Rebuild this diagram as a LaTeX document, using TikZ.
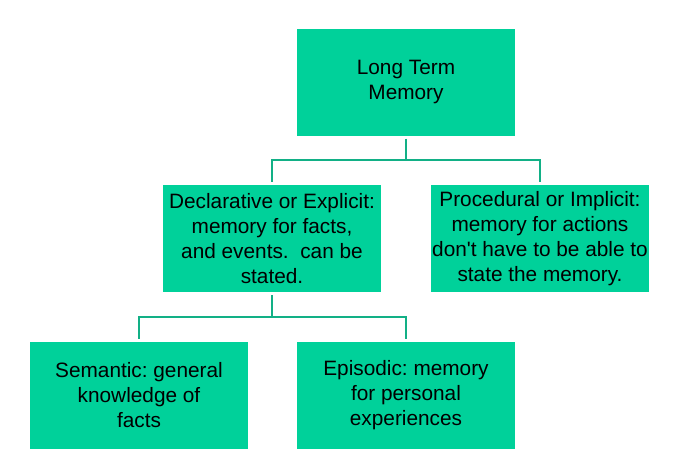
\documentclass[tikz,border=0pt]{standalone}
\usepackage{fontspec}
\setmainfont{Liberation Sans}
\frenchspacing
\definecolor{boxgreen}{RGB}{0,209,154}
\definecolor{linkgreen}{RGB}{18,176,134}

\tikzset{
  membox/.style={fill=boxgreen, minimum width=218pt, minimum height=107pt,
    inner sep=0pt, align=center, font=\fontsize{20.8}{25}\selectfont},
  link/.style={draw=linkgreen, line width=2.8pt}
}

\begin{document}
\begin{tikzpicture}[x=1pt,y=-1pt]
    \useasboundingbox (0,0) rectangle (686,475);
    % boxes
    \node[membox] (ltm) at (406,82) {Long Term\\Memory};
    \node[membox] (decl) at (272,238.5) {Declarative or Explicit:\\memory for facts,\\and events.\ \ can be\\stated.};
    \node[membox] (proc) at (540,238.5) {Procedural or Implicit:\\memory for actions\\don\textquotesingle t have to be able to\\state the memory.};
    \node[membox] (sem) at (139,395.5) {Semantic: general\\knowledge of\\facts};
    \node[membox] (epi) at (406,395.5) {Episodic: memory\\for personal\\experiences};
    % forks
    \coordinate (fork1) at (406,160);
    \coordinate (fork2) at (272,317);
    \draw[link] ([yshift=-3pt]ltm.south) -- (fork1);
    \draw[link] ([yshift=3pt]decl.north) |- (fork1) -| ([yshift=3pt]proc.north);
    \draw[link] ([yshift=-3pt]decl.south) -- (fork2);
    \draw[link] ([yshift=3pt]sem.north) |- (fork2) -| ([yshift=3pt]epi.north);
\end{tikzpicture}
\end{document}
